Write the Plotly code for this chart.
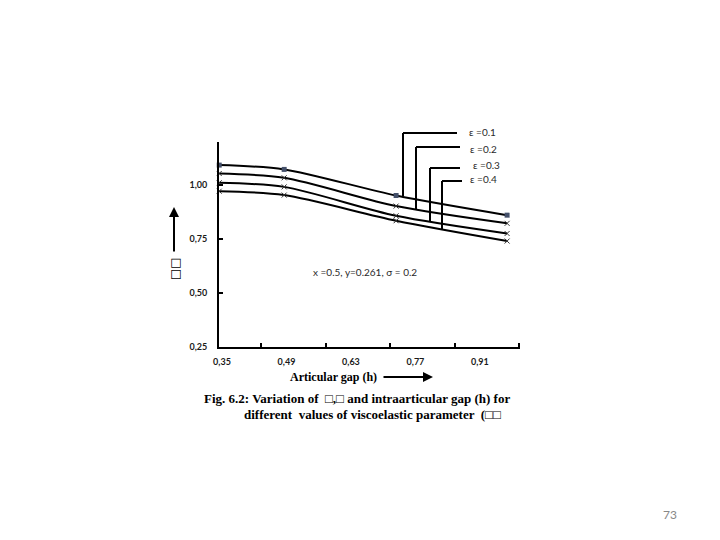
import plotly.graph_objects as go

# ---- data ----
h_values = [0.344, 0.485, 0.728, 0.969]
eps_labels = ["ε =0.1", "ε =0.2", "ε =0.3", "ε =0.4"]
series_01 = [1.093, 1.073, 0.952, 0.861]
series_02 = [1.054, 1.034, 0.903, 0.823]
series_03 = [1.011, 0.992, 0.858, 0.776]
series_04 = [0.972, 0.954, 0.835, 0.741]
x_tick_vals = [0.35, 0.49, 0.63, 0.77, 0.91]
x_tick_text = ["0,35", "0,49", "0,63", "0,77", "0,91"]
y_tick_vals = [0.25, 0.50, 0.75, 1.00]
y_tick_text = ["0,25", "0,50", "0,75", "1,00"]

# plot area in page pixels (body has an 8px default margin)
OFF = 8
L, R, T, B = 219, 520, 142, 347
W, H = R - L, B - T
def px(x):
    return (x - L) / W
def py(y):
    return (B - y) / H

fig = go.Figure()
all_series = [series_01, series_02, series_03, series_04]
for i, (ys, lab) in enumerate(zip(all_series, eps_labels)):
    if i == 0:
        marker = dict(symbol="square", size=5, color="#44506a")
    else:
        marker = dict(symbol="x-thin", size=5, color="#333333",
                      line=dict(width=1, color="#333333"))
    fig.add_trace(go.Scatter(
        x=h_values, y=ys, mode="lines+markers", name=lab,
        line=dict(color="black", width=2, shape="spline", smoothing=0.8),
        marker=marker, cliponaxis=False, showlegend=False))

shapes = []
# callout leader lines: (vertical x, top y, bottom y, horizontal end x)
callouts = [(403, 133, 196, 457), (416, 147, 210, 460),
            (430, 168, 221, 460), (442, 181, 230, 462)]
for vx, ty, by, hx in callouts:
    shapes.append(dict(type="line", xref="paper", yref="paper",
                       x0=px(vx), y0=py(by), x1=px(vx), y1=py(ty),
                       line=dict(color="black", width=2)))
    shapes.append(dict(type="line", xref="paper", yref="paper",
                       x0=px(vx), y0=py(ty), x1=px(hx), y1=py(ty),
                       line=dict(color="black", width=2)))

annotations = []
def note(x, y, text, font, xanchor="center"):
    annotations.append(dict(xref="paper", yref="paper", x=px(x), y=py(y),
                            text=text, showarrow=False, xanchor=xanchor,
                            yanchor="middle", font=font))

small = dict(family="Lato", size=10, color="#2a2a2a")
label_pos = [(467, 132), (468, 149), (471, 165), (468, 179)]
for (lx, ly), lab in zip(label_pos, eps_labels):
    note(lx, ly, lab, small, "left")

note(365, 272, "x =0.5, y=0.261, σ = 0.2", small)

# y axis arrow and label
annotations.append(dict(xref="paper", yref="paper", x=px(174), y=py(207),
                        ax=0, ay=46, text="", showarrow=True, arrowhead=2,
                        arrowsize=1, arrowwidth=2, arrowcolor="black"))
annotations.append(dict(xref="paper", yref="paper", x=px(175), y=py(269),
                        text="□□", showarrow=False, textangle=-90,
                        xanchor="center", yanchor="middle",
                        font=dict(family="DejaVu Sans", size=12, color="black")))

# x axis title and arrow
serif_b = dict(family="Liberation Serif", size=12, color="black")
note(333, 377, "<b>Articular gap (h)</b>", serif_b)
annotations.append(dict(xref="paper", yref="paper", x=px(433), y=py(377),
                        ax=-51, ay=0, text="", showarrow=True, arrowhead=2,
                        arrowsize=1, arrowwidth=2, arrowcolor="black"))

# caption
cap = dict(family="Liberation Serif", size=13, color="black")
note(202, 398, "<b>Fig. 6.2: Variation of  □,□ and intraarticular gap (h) for</b>", cap, "left")
note(242, 414, "<b>different  values of viscoelastic parameter  (□□</b>", cap, "left")

# page number
note(670, 515, "73", dict(family="Lato", size=12, color="#888888"))

tickfont = dict(family="Lato", size=9, color="#1a1a1a", weight="bold")
fig.update_layout(
    width=720 - OFF, height=540 - OFF,
    margin=dict(l=L - OFF, r=720 - R, t=T - OFF, b=540 - B, pad=0),
    paper_bgcolor="white", plot_bgcolor="white",
    separators=",.",
    shapes=shapes, annotations=annotations,
    xaxis=dict(range=[0.3435, 0.997], showgrid=False, zeroline=False,
               showline=True, linecolor="black", linewidth=2,
               tickvals=x_tick_vals, ticktext=x_tick_text, ticks="",
               ticklabelstandoff=5, tickfont=tickfont,
               minor=dict(tick0=0.435, dtick=0.14, ticks="inside",
                          ticklen=4, tickcolor="black", tickwidth=2)),
    yaxis=dict(range=[0.25, 1.2], showgrid=False, zeroline=False,
               showline=True, linecolor="black", linewidth=2,
               tickvals=y_tick_vals, ticktext=y_tick_text,
               ticks="inside", ticklen=4, tickwidth=2, tickcolor="black",
               ticklabelstandoff=8, tickfont=tickfont),
)

fig.write_html("out.html")
